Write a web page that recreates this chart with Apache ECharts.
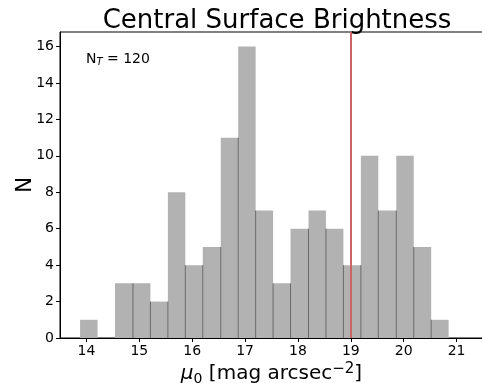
<!DOCTYPE html>
<html>
<head>
<meta charset="utf-8">
<script src="https://cdn.jsdelivr.net/npm/echarts@6/dist/echarts.min.js"></script>
<style>
  html, body { margin: 0; padding: 0; background: #fff; }
  #chart { width: 482px; height: 383px; }
</style>
</head>
<body>
<div id="chart"></div>
<script>
// histogram bins (edges in mag arcsec^-2) and counts
const binEdges = [13.88, 14.21, 14.54, 14.88, 15.21, 15.54, 15.87, 16.20, 16.54, 16.87, 17.20,
                  17.53, 17.86, 18.20, 18.53, 18.86, 19.19, 19.52, 19.86, 20.19, 20.52, 20.85];
const counts = [1, 0, 3, 3, 2, 8, 4, 5, 11, 16, 7, 3, 6, 7, 6, 4, 10, 7, 10, 5, 1];
const xTicks = [14, 15, 16, 17, 18, 19, 20, 21];
const yTicks = [0, 2, 4, 6, 8, 10, 12, 14, 16];
const markX = 19;
const totalN = 120;

const font = "DejaVu Sans";
const chart = echarts.init(document.getElementById("chart"));

const barData = counts.map((c, i) => [binEdges[i], binEdges[i + 1], c, i]);

chart.setOption({
  animation: false,
  title: {
    text: "Central Surface Brightness",
    left: 272,
    top: 3,
    textAlign: "center",
    textStyle: { fontFamily: font, fontSize: 26, fontWeight: "normal", color: "#000" }
  },
  grid: {
    left: 60, right: -1, top: 32, bottom: 45,
    outerBoundsMode: "none",
    containLabel: false,
    show: true,
    borderColor: "#000",
    borderWidth: 1,
    backgroundColor: "transparent"
  },
  xAxis: {
    type: "value",
    min: 13.5,
    max: 21.5,
    name: "{mu|μ}{sub|0}{n| [mag arcsec}{sup|−2}{n|]}",
    nameLocation: "middle",
    nameGap: 24,
    nameMoveOverlap: false,
    nameTextStyle: {
      rich: {
        mu: { fontFamily: font, fontSize: 20, fontStyle: "italic", color: "#000" },
        n: { fontFamily: font, fontSize: 20, color: "#000" },
        sub: { fontFamily: font, fontSize: 14, color: "#000", verticalAlign: "bottom", padding: [8, 0, 0, 0] },
        sup: { fontFamily: font, fontSize: 15, color: "#000", verticalAlign: "top", padding: [0, 0, 9, 0] }
      }
    },
    splitLine: { show: false },
    axisLine: { onZero: false, lineStyle: { color: "#000", width: 1 } },
    axisTick: { show: true, length: 4, customValues: xTicks, lineStyle: { color: "#000" } },
    axisLabel: { customValues: xTicks, fontFamily: font, fontSize: 14, color: "#000", margin: 6 }
  },
  yAxis: {
    type: "value",
    min: 0,
    max: 16.8,
    name: "N",
    nameLocation: "middle",
    nameGap: 24,
    nameMoveOverlap: false,
    nameTextStyle: { fontFamily: font, fontSize: 21, color: "#000" },
    splitLine: { show: false },
    axisLine: { show: true, lineStyle: { color: "#000", width: 1 } },
    axisTick: { show: true, length: 4, customValues: yTicks, lineStyle: { color: "#000" } },
    axisLabel: { customValues: yTicks, fontFamily: font, fontSize: 14, color: "#000", margin: 6 }
  },
  graphic: [
    {
      type: "text",
      left: 86,
      top: 52,
      style: {
        text: "{n|N}{s|T}{n| = " + totalN + "}",
        rich: {
          n: { fontFamily: font, fontSize: 14, fill: "#000" },
          s: { fontFamily: font, fontSize: 10, fontStyle: "italic", fill: "#000", verticalAlign: "bottom", padding: [6, 0, 0, 0] }
        }
      }
    }
  ],
  series: [
    {
      type: "custom",
      data: barData,
      encode: { x: [0, 1], y: 2 },
      renderItem: (params, api) => {
        const x0 = api.value(0), x1 = api.value(1), c = api.value(2), i = api.value(3);
        const p0 = api.coord([x0, 0]);
        const p1 = api.coord([x1, c]);
        const children = [{
          type: "rect",
          shape: { x: p0[0], y: p1[1], width: p1[0] - p0[0], height: p0[1] - p1[1] },
          style: { fill: "#b2b2b2" }
        }];
        if (i > 0) {
          const h = Math.min(counts[i - 1], c);
          if (h > 0) {
            const top = api.coord([x0, h]);
            children.push({
              type: "line",
              shape: { x1: p0[0], y1: p0[1], x2: top[0], y2: top[1] },
              style: { stroke: "#6a6a6a", lineWidth: 1 }
            });
          }
        }
        return { type: "group", children };
      },
      z: 2
    },
    {
      type: "line",
      data: [],
      markLine: {
        silent: true,
        symbol: "none",
        label: { show: false },
        lineStyle: { color: "#c96565", width: 2, type: "solid" },
        data: [{ xAxis: markX }]
      },
      z: 3
    }
  ]
});
</script>
</body>
</html>
